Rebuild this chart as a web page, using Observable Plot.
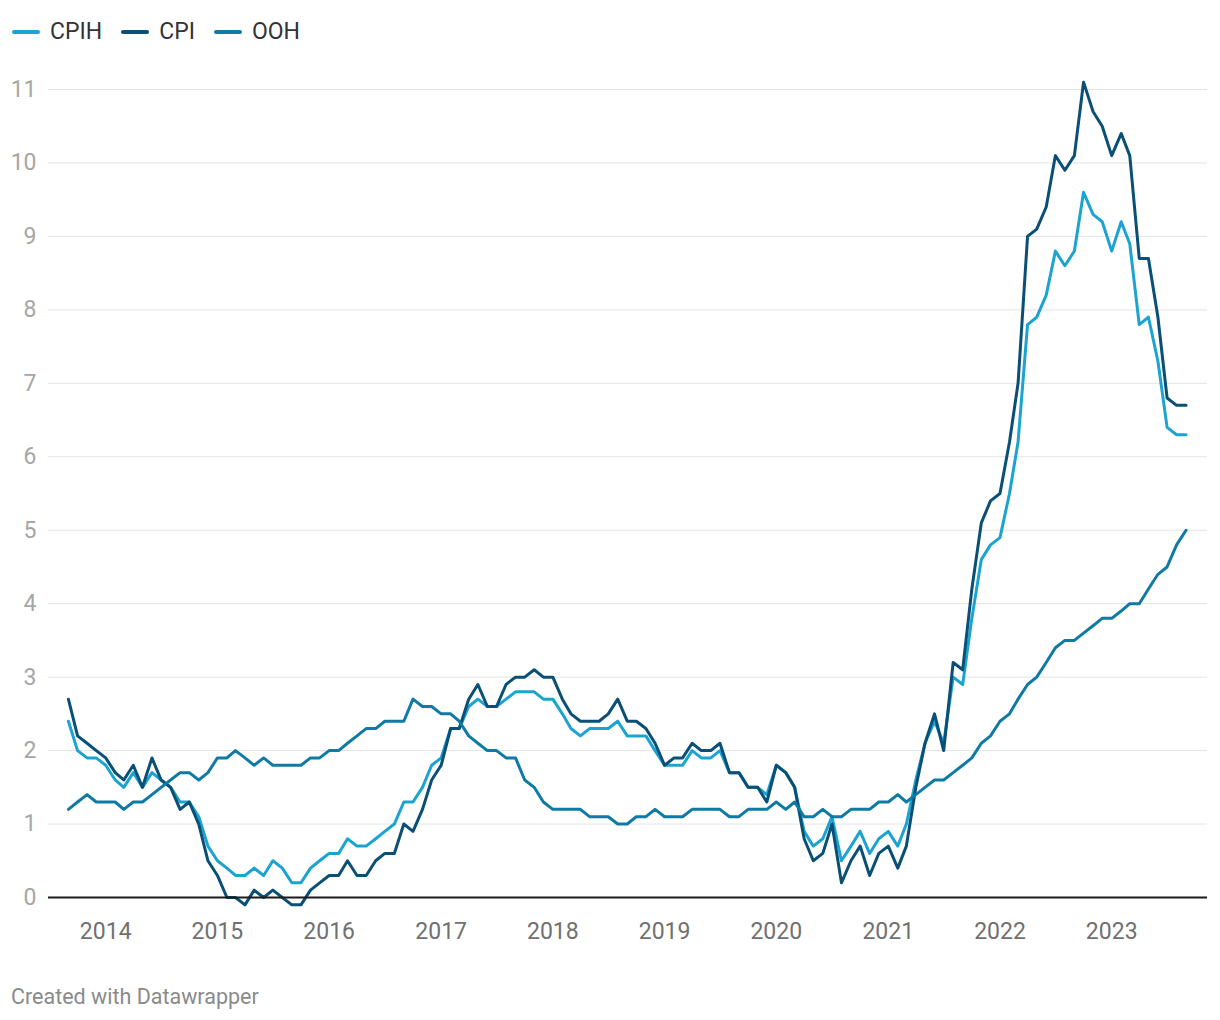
<!DOCTYPE html>
<html>
<head>
<meta charset="utf-8">
<script src="https://cdn.jsdelivr.net/npm/d3@7"></script>
<script src="https://cdn.jsdelivr.net/npm/@observablehq/plot@0.6"></script>
<style>
  html, body { margin: 0; padding: 0; background: #fff; }
  body { width: 1220px; height: 1020px; font-family: Roboto, "Noto Sans", sans-serif; position: relative; }
  #legend { position: absolute; left: 12px; top: 18px; display: flex; align-items: center; font-size: 23px; color: #333; line-height: 28px; }
  .item { display: flex; align-items: center; margin-right: 19px; }
  .sw { width: 28px; height: 4px; border-radius: 2px; margin-right: 10px; }
  #chart { position: absolute; left: 0; top: 60px; }
  #footer { position: absolute; left: 11px; top: 984px; font-size: 21.5px; color: #8a8a8a; }
</style>
</head>
<body>
<div id="legend"></div>
<div id="chart"></div>
<div id="footer">Created with Datawrapper</div>
<script>
// Monthly series, Sep 2013 .. Sep 2023 (annual rate, %)
const startMonth = "2013-09";
const seriesNames = ["CPIH", "CPI", "OOH"];
const seriesColors = ["#1ba3d1", "#0a4f76", "#0f7aa3"];
const cpih = [
  2.4, 2.0, 1.9, 1.9,
  1.8, 1.6, 1.5, 1.7, 1.5, 1.7, 1.6, 1.5, 1.3, 1.3, 1.1, 0.7,
  0.5, 0.4, 0.3, 0.3, 0.4, 0.3, 0.5, 0.4, 0.2, 0.2, 0.4, 0.5,
  0.6, 0.6, 0.8, 0.7, 0.7, 0.8, 0.9, 1.0, 1.3, 1.3, 1.5, 1.8,
  1.9, 2.3, 2.3, 2.6, 2.7, 2.6, 2.6, 2.7, 2.8, 2.8, 2.8, 2.7,
  2.7, 2.5, 2.3, 2.2, 2.3, 2.3, 2.3, 2.4, 2.2, 2.2, 2.2, 2.0,
  1.8, 1.8, 1.8, 2.0, 1.9, 1.9, 2.0, 1.7, 1.7, 1.5, 1.5, 1.4,
  1.8, 1.7, 1.5, 0.9, 0.7, 0.8, 1.1, 0.5, 0.7, 0.9, 0.6, 0.8,
  0.9, 0.7, 1.0, 1.6, 2.1, 2.4, 2.1, 3.0, 2.9, 3.8, 4.6, 4.8,
  4.9, 5.5, 6.2, 7.8, 7.9, 8.2, 8.8, 8.6, 8.8, 9.6, 9.3, 9.2,
  8.8, 9.2, 8.9, 7.8, 7.9, 7.3, 6.4, 6.3, 6.3
];
const cpi = [
  2.7, 2.2, 2.1, 2.0,
  1.9, 1.7, 1.6, 1.8, 1.5, 1.9, 1.6, 1.5, 1.2, 1.3, 1.0, 0.5,
  0.3, 0.0, 0.0, -0.1, 0.1, 0.0, 0.1, 0.0, -0.1, -0.1, 0.1, 0.2,
  0.3, 0.3, 0.5, 0.3, 0.3, 0.5, 0.6, 0.6, 1.0, 0.9, 1.2, 1.6,
  1.8, 2.3, 2.3, 2.7, 2.9, 2.6, 2.6, 2.9, 3.0, 3.0, 3.1, 3.0,
  3.0, 2.7, 2.5, 2.4, 2.4, 2.4, 2.5, 2.7, 2.4, 2.4, 2.3, 2.1,
  1.8, 1.9, 1.9, 2.1, 2.0, 2.0, 2.1, 1.7, 1.7, 1.5, 1.5, 1.3,
  1.8, 1.7, 1.5, 0.8, 0.5, 0.6, 1.0, 0.2, 0.5, 0.7, 0.3, 0.6,
  0.7, 0.4, 0.7, 1.5, 2.1, 2.5, 2.0, 3.2, 3.1, 4.2, 5.1, 5.4,
  5.5, 6.2, 7.0, 9.0, 9.1, 9.4, 10.1, 9.9, 10.1, 11.1, 10.7, 10.5,
  10.1, 10.4, 10.1, 8.7, 8.7, 7.9, 6.8, 6.7, 6.7
];
const ooh = [
  1.2, 1.3, 1.4, 1.3,
  1.3, 1.3, 1.2, 1.3, 1.3, 1.4, 1.5, 1.6, 1.7, 1.7, 1.6, 1.7,
  1.9, 1.9, 2.0, 1.9, 1.8, 1.9, 1.8, 1.8, 1.8, 1.8, 1.9, 1.9,
  2.0, 2.0, 2.1, 2.2, 2.3, 2.3, 2.4, 2.4, 2.4, 2.7, 2.6, 2.6,
  2.5, 2.5, 2.4, 2.2, 2.1, 2.0, 2.0, 1.9, 1.9, 1.6, 1.5, 1.3,
  1.2, 1.2, 1.2, 1.2, 1.1, 1.1, 1.1, 1.0, 1.0, 1.1, 1.1, 1.2,
  1.1, 1.1, 1.1, 1.2, 1.2, 1.2, 1.2, 1.1, 1.1, 1.2, 1.2, 1.2,
  1.3, 1.2, 1.3, 1.1, 1.1, 1.2, 1.1, 1.1, 1.2, 1.2, 1.2, 1.3,
  1.3, 1.4, 1.3, 1.4, 1.5, 1.6, 1.6, 1.7, 1.8, 1.9, 2.1, 2.2,
  2.4, 2.5, 2.7, 2.9, 3.0, 3.2, 3.4, 3.5, 3.5, 3.6, 3.7, 3.8,
  3.8, 3.9, 4.0, 4.0, 4.2, 4.4, 4.5, 4.8, 5.0
];
const yTicks = [0, 1, 2, 3, 4, 5, 6, 7, 8, 9, 10, 11];
const xTickYears = [2014, 2015, 2016, 2017, 2018, 2019, 2020, 2021, 2022, 2023];
const xDomain = ["2013-06-28", "2023-11-10"];

const start = new Date(startMonth + "-01T00:00:00");
const monthDate = i => new Date(start.getFullYear(), start.getMonth() + i, 1);
const valuesByName = {CPIH: cpih, CPI: cpi, OOH: ooh};
const data = [];
for (const name of seriesNames) {
  valuesByName[name].forEach((v, i) => data.push({series: name, date: monthDate(i), value: v}));
}

// Legend
const legend = document.getElementById("legend");
seriesNames.forEach((n, i) => {
  const it = document.createElement("div");
  it.className = "item";
  it.innerHTML = `<span class="sw" style="background:${seriesColors[i]}"></span><span>${n}</span>`;
  legend.appendChild(it);
});

const chart = Plot.plot({
  width: 1220,
  height: 900,
  marginLeft: 48,
  marginRight: 13,
  marginTop: 29,
  marginBottom: 63,
  style: {fontFamily: "Roboto, sans-serif", fontSize: "23px", background: "#fff"},
  x: {
    type: "time",
    domain: xDomain.map(d => new Date(d + "T00:00:00")),
    ticks: xTickYears.map(y => new Date(y, 0, 1)),
    tickFormat: d3.timeFormat("%Y"),
    label: null
  },
  y: {
    domain: [0, 11],
    ticks: yTicks,
    label: null
  },
  color: {domain: seriesNames, range: seriesColors},
  marks: [
    Plot.ruleY(yTicks.filter(t => t !== 0), {stroke: "#e3e3e3", strokeWidth: 1}),
    Plot.axisY({ticks: yTicks, tickSize: 0, tickPadding: 12, fill: "#a6a6a6", label: null}),
    Plot.axisX({ticks: xTickYears.map(y => new Date(y, 0, 1)), tickFormat: d3.timeFormat("%Y"), tickSize: 0, tickPadding: 25, fill: "#707070", label: null}),
    Plot.line(data, {x: "date", y: "value", z: "series", stroke: "series", strokeWidth: 3, strokeLinejoin: "round", strokeLinecap: "round"}),
    Plot.ruleY([0], {stroke: "#1a1a1a", strokeWidth: 2})
  ]
});
document.getElementById("chart").appendChild(chart);
</script>
</body>
</html>
